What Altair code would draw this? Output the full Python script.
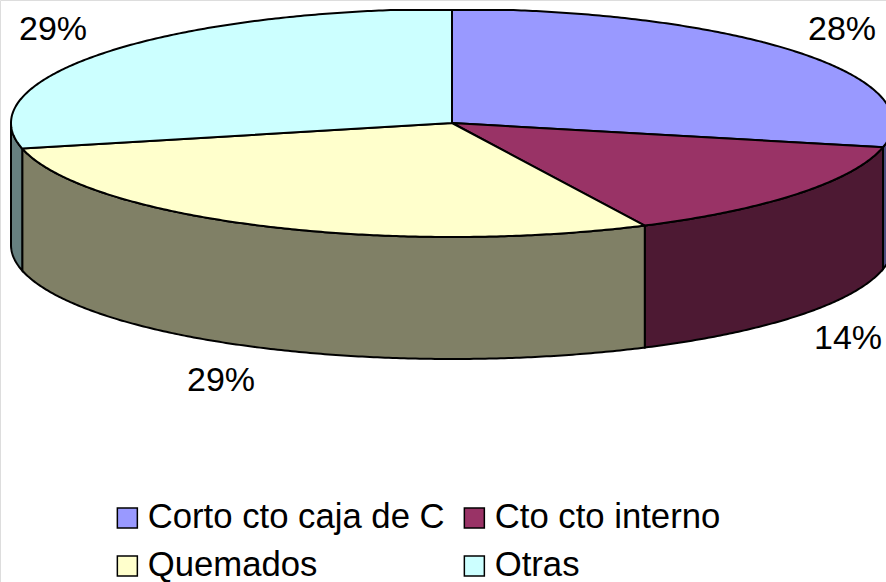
import math
import altair as alt

# Fault causes and their shares of the total, in percent
categories = ["Corto cto caja de C", "Cto cto interno", "Quemados", "Otras"]
shares = [28.4, 14.4, 28.6, 28.6]
top_colors = ["#9999FF", "#993366", "#FFFFCC", "#CCFFFF"]
side_colors = ["#4D4D80", "#4D1933", "#808066", "#668080"]

# Where each percentage label sits on the canvas
label_x = [842, 848, 221, 53]
label_y = [30, 339, 381, 30]

WIDTH, HEIGHT = 886, 582
CX, CY = 452, 123        # centre of the top ellipse
RX, RY = 441, 114        # ellipse radii
DEPTH = 122              # height of the extruded rim
TOP_LIMIT = 10           # top edge of the plot frame
FONT = "Liberation Sans"
FONT_SIZE = 34
LEGEND_FONT_SIZE = 34.7
LINE = 2


def rim_point(turn, drop=0.0):
    """Point on the ellipse, `turn` in degrees clockwise from twelve o'clock."""
    a = math.radians(turn)
    y = CY - RY * math.cos(a) + drop
    return [CX + RX * math.sin(a), max(y, TOP_LIMIT)]


def arc(start, stop, drop=0.0):
    steps = max(2, int(abs(stop - start) * 2))
    return [rim_point(start + (stop - start) * i / steps, drop) for i in range(steps + 1)]


def feature(ring, **props):
    ring = ring + [ring[0]]
    return {"type": "Feature", "properties": props,
            "geometry": {"type": "Polygon", "coordinates": [ring]}}


# Turn the shares into start and stop angles around the pie
total = sum(shares)
bounds = [0.0]
for s in shares:
    bounds.append(bounds[-1] + 360 * s / total)

tops, sides = [], []
for name, top, side, a, b in zip(categories, top_colors, side_colors, bounds, bounds[1:]):
    tops.append(feature([[CX, CY]] + arc(a, b), name=name))
    lo, hi = max(a, 90.0), min(b, 270.0)
    if lo < hi:
        sides.append(feature(arc(lo, hi) + arc(hi, lo, DEPTH), fill=side))


def geo_data(features):
    return alt.InlineData(values={"type": "FeatureCollection", "features": features},
                          format=alt.DataFormat(property="features", type="json"))


rim = alt.Chart(geo_data(sides)).mark_geoshape(stroke="black", strokeWidth=LINE).encode(
    fill=alt.Fill("properties.fill:N", scale=None, legend=None)
)

# The legend fills column by column, so list the entries to read across the rows
legend_order = [categories[0], categories[2], categories[1], categories[3]]

faces = alt.Chart(geo_data(tops)).mark_geoshape(stroke="black", strokeWidth=LINE).encode(
    fill=alt.Fill(
        "properties.name:N",
        scale=alt.Scale(domain=categories, range=top_colors),
        legend=alt.Legend(
            title=None, orient="none", legendX=110, legendY=500, columns=2,
            values=legend_order, padding=0,
            symbolType="square", symbolSize=400, symbolStrokeColor="black",
            symbolStrokeWidth=1.5, labelFont=FONT, labelFontSize=LEGEND_FONT_SIZE,
            labelColor="black", labelOffset=3, labelLimit=400,
            rowPadding=12, columnPadding=12, clipHeight=36,
        ),
    )
)

label_rows = [
    {"text": f"{round(s)}%", "px": x, "py": y}
    for s, x, y in zip(shares, label_x, label_y)
]
labels = alt.Chart(alt.Data(values=label_rows)).mark_text(
    font=FONT, fontSize=FONT_SIZE, color="black", align="center", baseline="middle"
).encode(
    x=alt.X("px:Q", scale=None, axis=None),
    y=alt.Y("py:Q", scale=None, axis=None),
    text="text:N",
)

chart = (
    alt.layer(rim, faces, labels)
    .resolve_scale(fill="independent")
    .project(type="identity", scale=1, translate=[0, 0])
    .properties(width=WIDTH, height=HEIGHT, padding=0, autosize=alt.AutoSizeParams(type="none"))
    .configure_view(stroke=None)
    .configure(background="white")
)

chart.save("out.html", embed_options={"renderer": "svg", "actions": False})
